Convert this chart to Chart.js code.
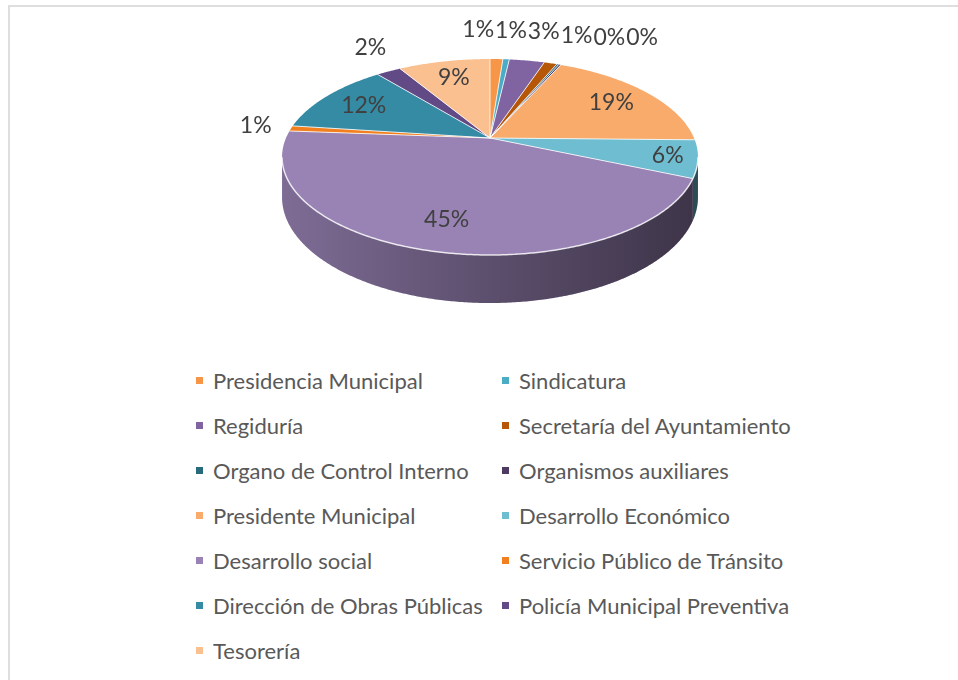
<!DOCTYPE html>
<html>
<head>
<meta charset="utf-8">
<script src="https://cdn.jsdelivr.net/npm/chart.js@4.4.1/dist/chart.umd.min.js"></script>
<style>
  html, body { margin: 0; background: #fff; font-family: Lato, sans-serif; overflow: hidden; }
  #frame { position: absolute; left: 8px; top: 5px; width: 1000px; height: 720px; border: 2px solid #dedede; }
  #pie { position: absolute; left: 0; top: 0; }
  #legend { position: absolute; left: 196px; top: 358px; display: grid;
            grid-template-columns: 306px 320px; grid-auto-rows: 45px;
            color: #595959; font-size: 22px; }
  .item { display: flex; align-items: center; white-space: nowrap; }
  .box { width: 7px; height: 7px; margin-right: 10px; flex: none; }
</style>
</head>
<body>
<div id="frame"></div>
<canvas id="pie" width="958" height="340"></canvas>
<div id="legend"></div>
<script>
const categories = ['Presidencia Municipal', 'Sindicatura', 'Regiduría', 'Secretaría del Ayuntamiento',
  'Organo de Control Interno', 'Organismos auxiliares', 'Presidente Municipal', 'Desarrollo Económico',
  'Desarrollo social', 'Servicio Público de Tránsito', 'Dirección de Obras Públicas',
  'Policía Municipal Preventiva', 'Tesorería'];
// share of each area, in percent
const shares = [1.2, 0.6, 3.3, 1.2, 0.2, 0.2, 18.6, 6.2, 44.7, 0.9, 12.0, 2.3, 8.6];
const sliceColors = ['#F79646', '#4BACC6', '#8064A2', '#B65708', '#276A7C', '#4D3B62', '#F9AB6B',
  '#6FBDD1', '#9983B5', '#F2801F', '#358BA4', '#614A85', '#FAC090'];

// fake 3d: tilt the disc with a little perspective and give it a wall
const pie3d = {
  id: 'pie3d',
  beforeDatasetsDraw(chart, args, opts) {
    const ctx = chart.ctx;
    const arcs = chart.getDatasetMeta(0).data;
    const ds = chart.data.datasets[0];
    const cx = arcs[0].x, cy = arcs[0].y;
    const { a, b, k, depth } = opts;
    const pt = (t, r, drop) => {
      const v = r * Math.sin(t), w = 1 / (1 - k * v);
      return [cx + a * r * Math.cos(t) * w, cy + (b * v + drop) * w];
    };
    const STEP = Math.PI / 360;
    const lim0 = Math.asin(k), lim1 = Math.PI - lim0;

    // walls
    arcs.forEach((arc, i) => {
      const s = Math.max(arc.startAngle, lim0), e = Math.min(arc.endAngle, lim1);
      if (e <= s) return;
      ctx.beginPath();
      for (let t = s; t < e; t += STEP) ctx.lineTo(...pt(t, 1, 0));
      ctx.lineTo(...pt(e, 1, 0));
      for (let t = e; t > s; t -= STEP) ctx.lineTo(...pt(t, 1, depth));
      ctx.lineTo(...pt(s, 1, depth));
      ctx.closePath();
      ctx.fillStyle = ds.backgroundColor[i];
      ctx.fill();
      const g = ctx.createLinearGradient(cx - a, 0, cx + a, 0);
      g.addColorStop(0, 'rgba(0,0,0,0.18)');
      g.addColorStop(0.5, 'rgba(0,0,0,0.4)');
      g.addColorStop(1, 'rgba(0,0,0,0.6)');
      ctx.fillStyle = g;
      ctx.fill();
    });

    // top faces
    arcs.forEach((arc, i) => {
      ctx.beginPath();
      ctx.moveTo(cx, cy);
      for (let t = arc.startAngle; t < arc.endAngle; t += STEP) ctx.lineTo(...pt(t, 1, 0));
      ctx.lineTo(...pt(arc.endAngle, 1, 0));
      ctx.closePath();
      ctx.fillStyle = ds.backgroundColor[i];
      ctx.fill();
    });
    ctx.strokeStyle = 'rgba(255,255,255,0.8)';
    ctx.lineWidth = 1;
    arcs.forEach(arc => {
      ctx.beginPath();
      ctx.moveTo(cx, cy);
      ctx.lineTo(...pt(arc.startAngle, 1, 0));
      ctx.stroke();
    });
    // rim highlight
    ctx.lineWidth = 1.5;
    ctx.beginPath();
    for (let t = lim0; t < lim1; t += STEP) ctx.lineTo(...pt(t, 1, 0));
    ctx.stroke();

    // data labels
    const total = ds.data.reduce((s, v) => s + v, 0);
    ctx.font = opts.font;
    ctx.fillStyle = '#404040';
    ctx.textAlign = 'center';
    ctx.textBaseline = 'middle';
    const outside = [];
    arcs.forEach((arc, i) => {
      const pct = ds.data[i] / total * 100;
      const txt = Math.round(pct) + '%';
      const mid = (arc.startAngle + arc.endAngle) / 2;
      if (pct >= 5) {
        const [x, y] = pt(mid, pct < 8 ? 0.86 : 0.76, 0);
        ctx.fillText(txt, x, y);
      } else {
        const [ax, ay] = pt(mid, 1.08, 0);
        const w = ctx.measureText(txt).width, h = 24;
        outside.push({ txt, w, h, x0: ax + Math.cos(mid) * (w / 2 + 4), y: ay + Math.sin(mid) * (h / 2 + 12) });
      }
    });
    // push overlapping outside labels apart, then recentre each cluster a bit
    let cluster = [];
    const flush = () => {
      if (!cluster.length) return;
      const shift = cluster.reduce((s, l) => s + (l.x - l.x0), 0) / cluster.length / 2;
      cluster.forEach(l => ctx.fillText(l.txt, l.x - shift, l.y));
      cluster = [];
    };
    outside.forEach(l => {
      l.x = l.x0;
      const p = cluster[cluster.length - 1];
      if (p && Math.abs(p.y - l.y) < l.h && l.x - p.x < (p.w + l.w) / 2 + 1) {
        l.x = p.x + (p.w + l.w) / 2 + 1;
      } else {
        flush();
      }
      cluster.push(l);
    });
    flush();
    return false;
  }
};

const chart = new Chart(document.getElementById('pie'), {
  type: 'pie',
  data: {
    labels: categories,
    datasets: [{
      data: shares,
      backgroundColor: sliceColors,
      borderWidth: 0
    }]
  },
  options: {
    responsive: false,
    animation: false,
    events: [],
    layout: { padding: { left: 22, right: 0, top: 0, bottom: 64 } },
    plugins: {
      legend: { display: false },
      tooltip: { enabled: false },
      pie3d: { a: 204, b: 94.3, k: 0.194, depth: 38.7, font: '23px Lato' }
    }
  },
  plugins: [pie3d]
});

// legend in two columns like the original
const legend = document.getElementById('legend');
chart.data.labels.forEach((name, i) => {
  const item = document.createElement('div');
  item.className = 'item';
  item.innerHTML = '<span class="box" style="background:' + sliceColors[i] + '"></span><span>' + name + '</span>';
  legend.appendChild(item);
});
</script>
</body>
</html>
